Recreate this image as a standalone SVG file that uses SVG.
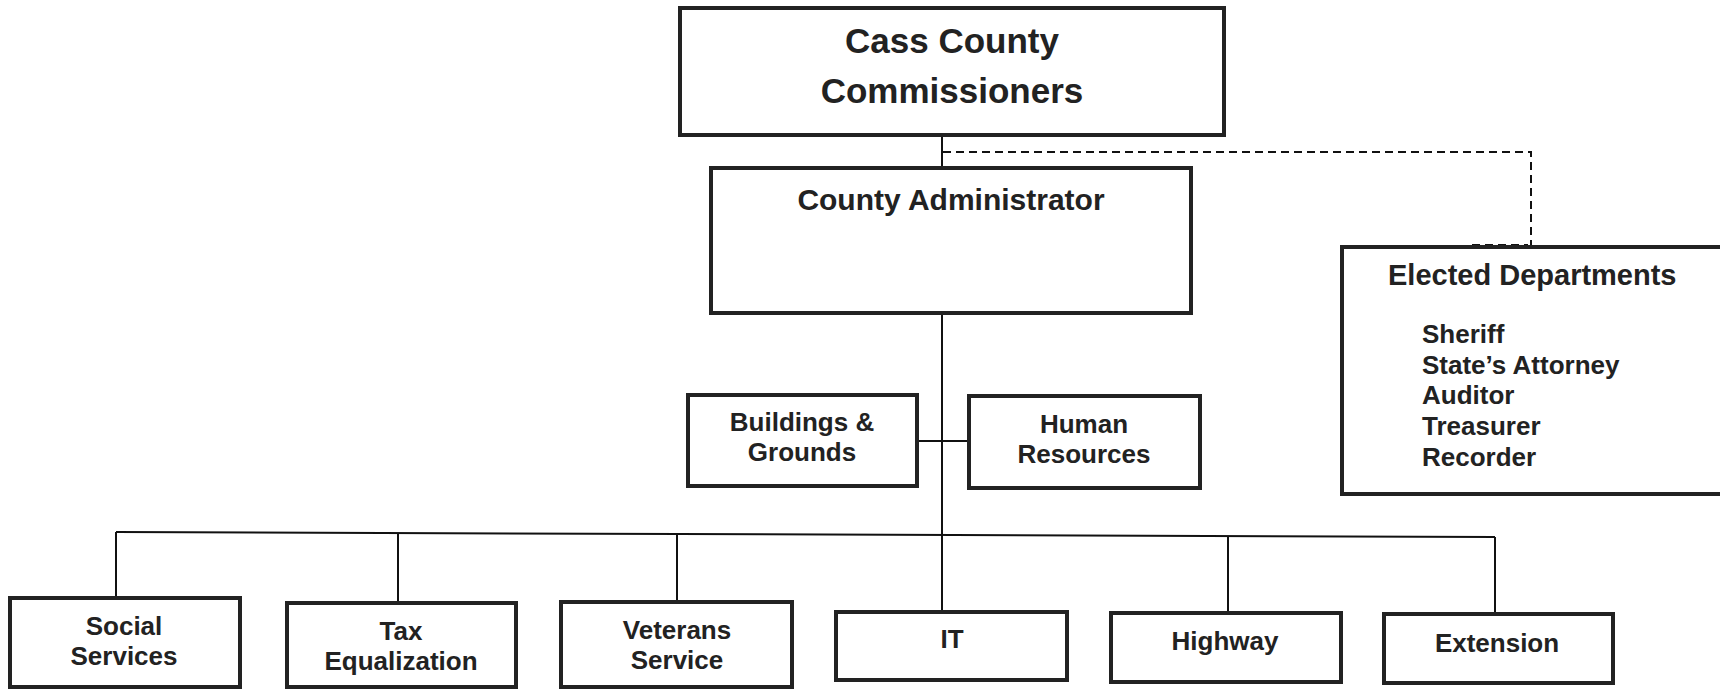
<svg xmlns="http://www.w3.org/2000/svg" width="1720" height="689" viewBox="0 0 1720 689">
<style>
.box{fill:#fff;stroke:#222;stroke-width:4}
.ln{stroke:#111;stroke-width:2;fill:none}
.dash{stroke:#111;stroke-width:2;fill:none;stroke-dasharray:8 5}
text{font-family:"Liberation Sans",Arial,sans-serif;font-weight:bold;fill:#222}
.c{text-anchor:middle;font-size:26px}
.l{font-size:26px}
</style>
<rect width="1720" height="689" fill="#fff"/>
<g id="connectors">
<line class="ln" x1="942" y1="135" x2="942" y2="168"/>
<line class="ln" x1="942" y1="313" x2="942" y2="612"/>
<line class="ln" x1="917" y1="441" x2="969" y2="441"/>
<polyline class="dash" points="943,152 1531,152 1531,247"/>
<line class="dash" x1="1472" y1="245" x2="1528" y2="245"/>
<line class="ln" x1="116" y1="532" x2="1495" y2="537"/>
<line class="ln" x1="116" y1="532" x2="116" y2="598"/>
<line class="ln" x1="398" y1="533" x2="398" y2="603"/>
<line class="ln" x1="677" y1="534" x2="677" y2="602"/>
<line class="ln" x1="1228" y1="536" x2="1228" y2="613"/>
<line class="ln" x1="1495" y1="537" x2="1495" y2="614"/>
</g>
<g id="commissioners">
<rect class="box" x="680" y="8" width="544" height="127"/>
<text class="c" x="952" y="53" style="font-size:35px">Cass County</text>
<text class="c" x="952" y="103" style="font-size:35px">Commissioners</text>
</g>
<g id="administrator">
<rect class="box" x="711" y="168" width="480" height="145"/>
<text class="c" x="951" y="210" style="font-size:30px">County Administrator</text>
</g>
<g id="elected">
<rect class="box" x="1342" y="247" width="390" height="247"/>
<text x="1388" y="285" style="font-size:29px">Elected Departments</text>
<text class="l" x="1422" y="343">Sheriff</text>
<text class="l" x="1422" y="374">State’s Attorney</text>
<text class="l" x="1422" y="404">Auditor</text>
<text class="l" x="1422" y="435">Treasurer</text>
<text class="l" x="1422" y="466">Recorder</text>
</g>
<g id="buildings">
<rect class="box" x="688" y="395" width="229" height="91"/>
<text class="c" x="802" y="431">Buildings &amp;</text>
<text class="c" x="802" y="461">Grounds</text>
</g>
<g id="hr">
<rect class="box" x="969" y="396" width="231" height="92"/>
<text class="c" x="1084" y="433">Human</text>
<text class="c" x="1084" y="463">Resources</text>
</g>
<g id="social">
<rect class="box" x="10" y="598" width="230" height="89"/>
<text class="c" x="124" y="635">Social</text>
<text class="c" x="124" y="665">Services</text>
</g>
<g id="tax">
<rect class="box" x="287" y="603" width="229" height="84"/>
<text class="c" x="401" y="640">Tax</text>
<text class="c" x="401" y="670">Equalization</text>
</g>
<g id="veterans">
<rect class="box" x="561" y="602" width="231" height="85"/>
<text class="c" x="677" y="639">Veterans</text>
<text class="c" x="677" y="669">Service</text>
</g>
<g id="it">
<rect class="box" x="836" y="612" width="231" height="68"/>
<text class="c" x="952" y="648">IT</text>
</g>
<g id="highway">
<rect class="box" x="1111" y="613" width="230" height="69"/>
<text class="c" x="1225" y="650">Highway</text>
</g>
<g id="extension">
<rect class="box" x="1384" y="614" width="229" height="69"/>
<text class="c" x="1497" y="652">Extension</text>
</g>
</svg>
